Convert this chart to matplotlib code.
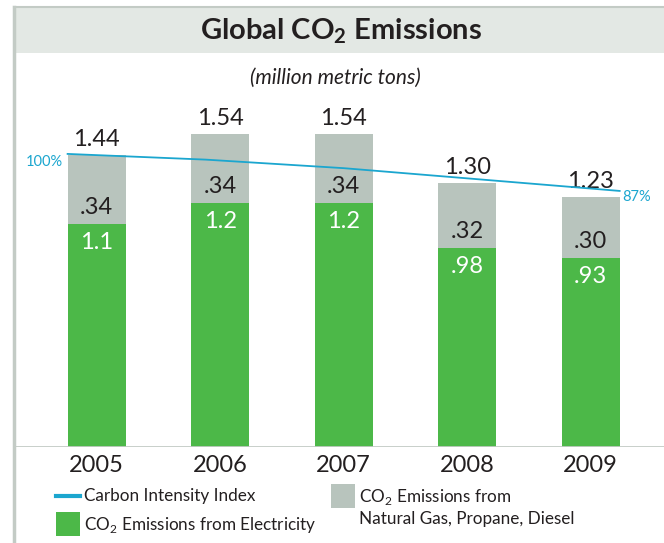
import numpy as np
import matplotlib
matplotlib.use('Agg')
import matplotlib.pyplot as plt
from matplotlib.patches import Rectangle
from matplotlib.lines import Line2D

# data
years = ['2005', '2006', '2007', '2008', '2009']
electricity = [1.1, 1.2, 1.2, 0.98, 0.93]
other_fuels = [0.34, 0.34, 0.34, 0.32, 0.30]
totals = [1.44, 1.54, 1.54, 1.30, 1.23]
intensity_index = [100, 98, 95, 91, 87]

elec_labels = ['1.1', '1.2', '1.2', '.98', '.93']
other_labels = ['.34', '.34', '.34', '.32', '.30']
total_labels = ['1.44', '1.54', '1.54', '1.30', '1.23']

# colours
green = '#4cb848'
grey = '#b8c4bd'
cyan = '#1ba6cf'
txt = '#231f20'
frame = '#c3cbc5'
header = '#e3e8e4'

plt.rcParams['font.family'] = ['Lato', 'DejaVu Sans']
plt.rcParams['mathtext.fontset'] = 'custom'
plt.rcParams['mathtext.rm'] = 'Lato'
plt.rcParams['mathtext.bf'] = 'Lato:bold'

W, H = 664, 543
fig = plt.figure(figsize=(W / 100, H / 100), dpi=100)


def fx(px):
    return px / W


def fy(py):
    return 1 - py / H


# header band and frame
fig.patches.append(Rectangle((fx(15), fy(53)), fx(W - 15), (53 - 7) / H,
                             transform=fig.transFigure, facecolor=header,
                             edgecolor='none', zorder=0))
fig.add_artist(Line2D([fx(14), fx(14)], [fy(7), 0], color=frame, lw=2.5))
fig.add_artist(Line2D([fx(14), 1], [fy(7), fy(7)], color=frame, lw=1.5))

fig.text(fx(341), fy(31), r'Global CO$_\mathbf{2}$ Emissions', ha='center',
         va='center', fontsize=21, fontweight='bold', color=txt)
fig.text(fx(335), fy(78), '(million metric tons)', ha='center', va='center',
         fontsize=15, style='italic', color=txt)

# main axes
ax = fig.add_axes([fx(15), fy(447), fx(W - 15), (447 - 54) / H])
ax.set_facecolor('none')
x = np.arange(len(years))
w = 0.47
ax.bar(x, electricity, w, color=green, zorder=2)
ax.bar(x, other_fuels, w, bottom=electricity, color=grey, zorder=2)
ax.set_xlim(-0.661, 4.594)
ax.set_ylim(0, 393 / 203)
for s in ax.spines.values():
    s.set_visible(False)
ax.axhline(0, color=frame, lw=2, zorder=3)
ax.set_yticks([])
ax.set_xticks(x)
ax.set_xticklabels(years)
ax.tick_params(axis='x', length=0, pad=6, labelsize=17, labelcolor=txt)

for i in range(len(years)):
    ax.annotate(total_labels[i], (x[i], totals[i]), xytext=(0, 5),
                textcoords='offset pixels', ha='center', va='bottom',
                fontsize=17, color=txt)
    ax.annotate(other_labels[i], (x[i], electricity[i]), xytext=(0, 6),
                textcoords='offset pixels', ha='center', va='bottom',
                fontsize=17, color=txt)
    ax.annotate(elec_labels[i], (x[i], electricity[i]), xytext=(0, -8),
                textcoords='offset pixels', ha='center', va='top',
                fontsize=17, color='white')

# carbon intensity line
ax2 = ax.twinx()
ax2.set_ylim(-2.95, 135.1)
ax2.set_yticks([])
for s in ax2.spines.values():
    s.set_visible(False)
line_x = np.linspace(x[0] - w / 2, x[-1] + w / 2, len(intensity_index))
ax2.plot(line_x, intensity_index, color=cyan, lw=1.3, zorder=4)
ax2.annotate('%d%%' % intensity_index[0], (line_x[0], intensity_index[0]),
             xytext=(-5, -8), textcoords='offset pixels', ha='right',
             va='center', fontsize=10.5, color=cyan)
ax2.annotate('%d%%' % intensity_index[-1], (line_x[-1], intensity_index[-1]),
             xytext=(3, -6), textcoords='offset pixels', ha='left',
             va='center', fontsize=10.5, color=cyan)

# legend
fs_leg = 12.3
fig.add_artist(Line2D([fx(56), fx(80)], [fy(496), fy(496)], color=cyan, lw=3))
fig.text(fx(84), fy(496), 'Carbon Intensity Index', va='center',
         fontsize=fs_leg, color=txt)
fig.patches.append(Rectangle((fx(56), fy(536)), fx(24), 24 / H,
                             transform=fig.transFigure, facecolor=green,
                             edgecolor='none'))
fig.text(fx(84), fy(525), r'CO$_2$ Emissions from Electricity', va='center',
         fontsize=fs_leg, color=txt)
fig.patches.append(Rectangle((fx(331), fy(508)), fx(24), 24 / H,
                             transform=fig.transFigure, facecolor=grey,
                             edgecolor='none'))
fig.text(fx(359), fy(497), r'CO$_2$ Emissions from', va='center',
         fontsize=fs_leg, color=txt)
fig.text(fx(359), fy(519), 'Natural Gas, Propane, Diesel', va='center',
         fontsize=fs_leg, color=txt)

plt.savefig('out.png', dpi=100)
plt.close()
